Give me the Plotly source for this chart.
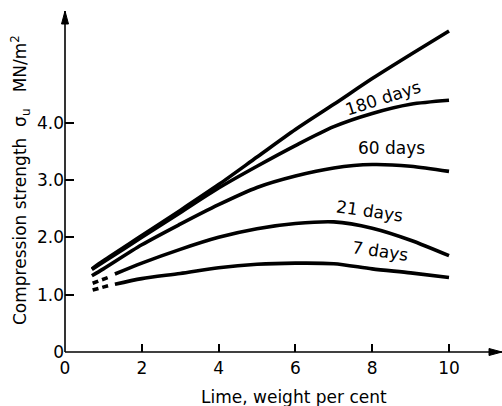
import plotly.graph_objects as go

# ---- data ----
lime = [0.7, 1, 2, 3, 4, 5, 6, 7, 8, 9, 10]
top_curve = [1.45, 1.59, 2.03, 2.47, 2.92, 3.40, 3.88, 4.32, 4.77, 5.19, 5.60]
days_180 = [1.44, 1.57, 2.00, 2.43, 2.86, 3.24, 3.60, 3.93, 4.16, 4.32, 4.39]
days_60 = [1.33, 1.45, 1.87, 2.23, 2.57, 2.87, 3.07, 3.21, 3.27, 3.24, 3.15]

lime_late = [1.3, 2, 3, 4, 5, 6, 7, 8, 9, 10]
days_21 = [1.36, 1.55, 1.79, 2.00, 2.15, 2.24, 2.27, 2.16, 1.95, 1.68]
days_7 = [1.18, 1.28, 1.37, 1.47, 1.53, 1.55, 1.54, 1.45, 1.38, 1.30]

lime_start = [0.72, 1.2]
days_21_start = [1.20, 1.32]
days_7_start = [1.08, 1.17]

x_ticks = [0, 2, 4, 6, 8, 10]
y_ticks = [0, 1, 2, 3, 4]
y_tick_text = ["0", "1.0", "2.0", "3.0", "4.0"]

labels = ["180 days", "60 days", "21 days", "7 days"]

FONT = "DejaVu Sans"
W, H = 502, 406
ML, MR, MT, MB = 65, 0, 8, 54
PW, PH = W - ML - MR, H - MT - MB

fig = go.Figure()

line = dict(color="black", width=3.6, shape="spline", smoothing=0.8)
for ys in [top_curve, days_180, days_60]:
    fig.add_trace(go.Scatter(x=lime, y=ys, mode="lines", line=line, hoverinfo="skip"))
for ys in [days_21, days_7]:
    fig.add_trace(go.Scatter(x=lime_late, y=ys, mode="lines", line=line, hoverinfo="skip"))
for ys in [days_21_start, days_7_start]:
    fig.add_trace(go.Scatter(x=lime_start, y=ys, mode="lines",
                             line=dict(color="black", width=3.6, dash="6px,4px"),
                             hoverinfo="skip"))

# curve labels
label_pos = [(8.28, 4.43, -18), (8.5, 3.56, 0), (7.92, 2.46, 8), (8.2, 1.76, 8)]
for txt, (lx, ly, ang) in zip(labels, label_pos):
    fig.add_annotation(x=lx, y=ly, text=txt, showarrow=False, textangle=ang,
                       font=dict(family=FONT, size=17, color="black"))

# axis lines with arrowheads (paper coordinates)
ax_len, ax_half = 13.0, 3.5
y_top = 1 - 3.0 / PH
fig.add_shape(type="line", xref="paper", yref="paper", x0=0, y0=0, x1=1, y1=0,
              line=dict(color="black", width=1.6))
fig.add_shape(type="line", xref="paper", yref="paper", x0=0, y0=0, x1=0, y1=y_top,
              line=dict(color="black", width=1.6))
fig.add_shape(type="path", xref="paper", yref="paper", fillcolor="black",
              line=dict(color="black", width=1),
              path=f"M 1 0 L {1 - ax_len / PW} {ax_half / PH} L {1 - ax_len / PW} {-ax_half / PH} Z")
fig.add_shape(type="path", xref="paper", yref="paper", fillcolor="black",
              line=dict(color="black", width=1),
              path=f"M 0 {y_top} L {ax_half / PW} {y_top - ax_len / PH} L {-ax_half / PW} {y_top - ax_len / PH} Z")

# axis titles
fig.add_annotation(xref="paper", yref="paper", x=-45.0 / PW, y=0.50, xanchor="center",
                   yanchor="middle", textangle=-90, showarrow=False,
                   text="Compression strength  σ<sub>u</sub>   MN/m<sup>2</sup>",
                   font=dict(family=FONT, size=17, color="black"))
fig.add_annotation(xref="paper", yref="paper", x=0.523, y=-45.0 / PH, xanchor="center",
                   yanchor="middle", showarrow=False, text="Lime, weight per cent",
                   font=dict(family=FONT, size=17, color="black"))

fig.update_layout(
    width=W, height=H,
    margin=dict(l=ML, r=MR, t=MT, b=MB, autoexpand=False),
    paper_bgcolor="white", plot_bgcolor="white",
    showlegend=False,
    font=dict(family=FONT, size=16, color="black"),
)
fig.update_xaxes(range=[0, 11.38], tickvals=x_ticks, ticks="inside", ticklen=8,
                 tickwidth=1.5, tickcolor="black", showgrid=False, zeroline=False,
                 showline=False, ticklabelstandoff=4,
                 tickfont=dict(family=FONT, size=17, color="black"))
fig.update_yaxes(range=[0, 6.0], tickvals=y_ticks, ticktext=y_tick_text, ticks="inside",
                 ticklen=9, tickwidth=1.5, tickcolor="black", showgrid=False,
                 zeroline=False, showline=False,
                 tickfont=dict(family=FONT, size=17, color="black"))

fig.write_html("out.html", config={"displayModeBar": False},
               post_script="document.body.style.margin='0';document.body.style.overflow='hidden';")
